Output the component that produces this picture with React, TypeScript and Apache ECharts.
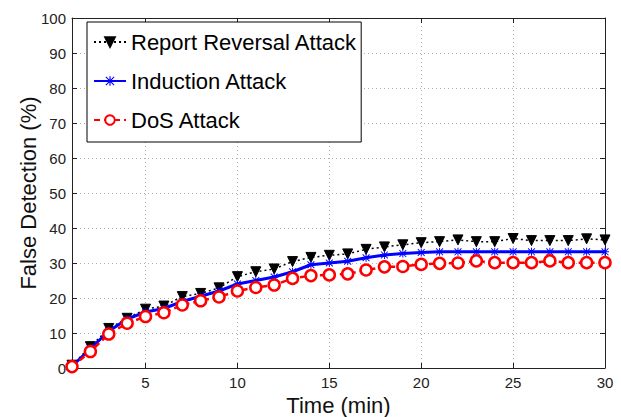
import React, { useEffect, useRef } from "react";
import * as echarts from "echarts";

const timeMin = [1, 2, 3, 4, 5, 6, 7, 8, 9, 10, 11, 12, 13, 14, 15, 16, 17, 18, 19, 20, 21, 22, 23, 24, 25, 26, 27, 28, 29, 30];
const reportReversal = [0.8, 6.1, 11.3, 14.2, 16.8, 17.7, 20.4, 21.3, 22.9, 26.1, 27.5, 28.3, 30.4, 31.6, 32.2, 32.6, 33.9, 34.6, 35.2, 35.8, 36.1, 36.6, 36.1, 36.1, 37.0, 36.4, 36.4, 36.4, 36.9, 36.6];
const induction = [0.5, 5.5, 10.5, 14.0, 16.0, 17.0, 19.0, 20.5, 22.0, 24.0, 25.0, 26.0, 27.5, 29.5, 30.0, 30.5, 31.5, 32.3, 32.7, 33.0, 33.2, 33.2, 33.2, 33.2, 33.2, 33.2, 33.2, 33.2, 33.2, 33.2];
const dos = [0.4, 4.7, 9.7, 12.8, 14.7, 15.8, 18.0, 19.2, 20.3, 22.0, 23.0, 23.7, 25.6, 26.4, 26.6, 26.9, 28.0, 28.9, 29.0, 29.6, 29.9, 30.0, 30.6, 30.1, 30.1, 30.1, 30.6, 30.1, 30.1, 30.1];
const xTicks = [5, 10, 15, 20, 25, 30];
const seriesNames = ["Report Reversal Attack", "Induction Attack", "DoS Attack"];

const FONT = "Liberation Sans";
const asterisk =
  "path://M0 4.4H10V5.6H0Z M4.4 0H5.6V10H4.4Z M1.1 0.3L9.7 8.9L8.9 9.7L0.3 1.1Z M8.9 0.3L9.7 1.1L1.1 9.7L0.3 8.9Z";

export default function App() {
  const ref = useRef<HTMLDivElement>(null);
  useEffect(() => {
    if (!ref.current) return;
    const chart = echarts.init(ref.current, null, { renderer: "svg" });
    const pair = (ys: number[]) => timeMin.map((x, i) => [x, ys[i]]);
    const gridLine = { show: true, lineStyle: { color: "#b0b0b0", width: 1, type: [1, 3] as any } };
    chart.setOption({
      animation: false,
      backgroundColor: "#fff",
      textStyle: { fontFamily: FONT },
      grid: { left: 72, right: 16, top: 18, bottom: 49, containLabel: false, outerBoundsMode: "none" },
      legend: {
        orient: "vertical",
        left: 87,
        top: 22,
        data: seriesNames,
        backgroundColor: "#fff",
        borderColor: "#000",
        borderWidth: 1,
        borderRadius: 0,
        padding: [9, 4, 11, 6],
        itemGap: 17,
        itemWidth: 32,
        itemHeight: 12,
        textStyle: { fontSize: 22, color: "#000", fontFamily: FONT },
      },
      xAxis: [
        {
          type: "value",
          min: 1,
          max: 30,
          name: "Time (min)",
          nameLocation: "middle",
          nameGap: 26,
          nameMoveOverlap: false,
          nameTextStyle: { fontSize: 22, color: "#111", fontFamily: FONT },
          axisLine: { show: true, onZero: false, lineStyle: { color: "#222", width: 1 } },
          axisTick: { show: true, inside: true, length: 5, customValues: xTicks, lineStyle: { color: "#222" } },
          axisLabel: { show: true, customValues: xTicks, fontSize: 15, color: "#222", margin: 7, fontFamily: FONT },
          splitLine: { ...gridLine, customValues: xTicks },
        },
        {
          type: "value",
          min: 1,
          max: 30,
          position: "top",
          axisLine: { show: true, onZero: false, lineStyle: { color: "#222", width: 1 } },
          axisTick: { show: true, inside: true, length: 5, customValues: xTicks, lineStyle: { color: "#222" } },
          axisLabel: { show: false },
          splitLine: { show: false },
        },
      ],
      yAxis: [
        {
          type: "value",
          min: 0,
          max: 100,
          interval: 10,
          name: "False Detection (%)",
          nameLocation: "middle",
          nameGap: 33,
          nameMoveOverlap: false,
          nameTextStyle: { fontSize: 22, color: "#111", fontFamily: FONT },
          axisLine: { show: true, onZero: false, lineStyle: { color: "#222", width: 1 } },
          axisTick: { show: true, inside: true, length: 5, lineStyle: { color: "#222" } },
          axisLabel: { fontSize: 15, color: "#222", margin: 6, fontFamily: FONT },
          splitLine: gridLine,
        },
        {
          type: "value",
          min: 0,
          max: 100,
          interval: 10,
          position: "right",
          axisLine: { show: true, onZero: false, lineStyle: { color: "#222", width: 1 } },
          axisTick: { show: true, inside: true, length: 5, lineStyle: { color: "#222" } },
          axisLabel: { show: false },
          splitLine: { show: false },
        },
      ],
      series: [
        {
          name: seriesNames[0],
          type: "line",
          data: pair(reportReversal),
          symbol: "triangle",
          symbolRotate: 180,
          symbolSize: 10,
          showAllSymbol: true,
          lineStyle: { color: "#000", width: 1.5, type: [2, 3] },
          itemStyle: { color: "#000", borderColor: "#000", borderWidth: 1 },
          z: 2,
        },
        {
          name: seriesNames[1],
          type: "line",
          data: pair(induction),
          symbol: asterisk,
          symbolSize: 8,
          showAllSymbol: true,
          lineStyle: { color: "#0000ff", width: 3 },
          itemStyle: { color: "#0000ff", borderColor: "#0000ff", borderWidth: 0 },
          z: 3,
        },
        {
          name: seriesNames[2],
          type: "line",
          data: pair(dos),
          symbol: "circle",
          symbolSize: 11,
          showAllSymbol: true,
          lineStyle: { color: "#ff0000", width: 2.5, type: [6, 4] },
          itemStyle: { color: "#fff", borderColor: "#ff0000", borderWidth: 2.5 },
          z: 4,
        },
      ],
    });
    return () => chart.dispose();
  }, []);
  return <div ref={ref} style={{ width: 621, height: 417, position: "absolute", left: 0, top: 0 }} />;
}
